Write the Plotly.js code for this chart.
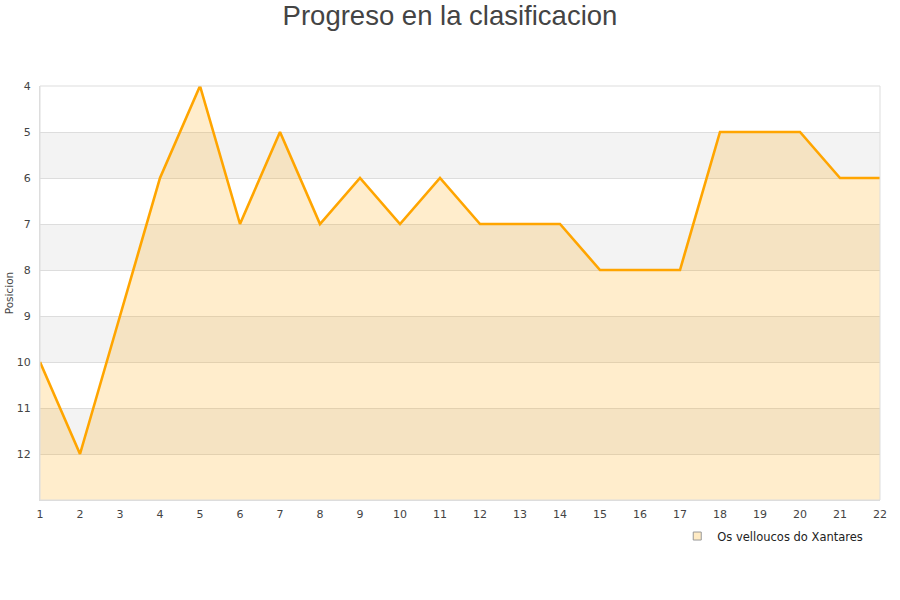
<!DOCTYPE html>
<html>
<head>
<meta charset="utf-8">
<script src="https://cdn.plot.ly/plotly-3.0.1.min.js"></script>
<style>html,body{margin:0;padding:0;background:#fff;}#chart{width:900px;height:600px;}</style>
</head>
<body>
<div id="chart"></div>
<script>
const jornadas = [1,2,3,4,5,6,7,8,9,10,11,12,13,14,15,16,17,18,19,20,21,22];
const posicion = [10,12,9,6,4,7,5,7,6,7,6,7,7,7,8,8,8,5,5,5,6,6];
const teamName = "Os velloucos do Xantares";
const yTicks = [4,5,6,7,8,9,10,11,12];
const bandStarts = [5,7,9,11];
const yBottom = 13;

const baseline = {
  x: jornadas,
  y: jornadas.map(() => yBottom),
  mode: 'lines',
  line: {width: 0, color: 'rgba(0,0,0,0)'},
  hoverinfo: 'skip',
  showlegend: false
};
const main = {
  x: jornadas,
  y: posicion,
  name: teamName,
  mode: 'lines',
  line: {color: '#FFA500', width: 2.6},
  fill: 'tonexty',
  fillcolor: 'rgba(255,165,0,0.2)',
  showlegend: false
};
const legendEntry = {
  x: [null], y: [null],
  name: teamName,
  mode: 'markers',
  marker: {symbol: 'square', size: 8, color: '#FFEBC4', line: {color: '#999999', width: 1}},
  showlegend: true
};

const shapes = bandStarts.map(b => ({
  type: 'rect', xref: 'paper', yref: 'y', x0: 0, x1: 1, y0: b, y1: b + 1,
  fillcolor: '#f3f3f3', line: {width: 0}, layer: 'below'
}));
shapes.push({
  type: 'rect', xref: 'paper', yref: 'paper', x0: 0, x1: 1, y0: 0, y1: 1,
  line: {color: '#dddddd', width: 1}, fillcolor: 'rgba(0,0,0,0)', layer: 'above'
});

const layout = {
  width: 900, height: 600,
  margin: {l: 40, r: 20, t: 86, b: 100},
  paper_bgcolor: '#fff', plot_bgcolor: '#fff',
  font: {family: 'DejaVu Sans, sans-serif', size: 11, color: '#444'},
  title: {text: 'Progreso en la clasificacion', x: 0.5, xanchor: 'center', y: 0.975, yanchor: 'middle',
          font: {family: 'Liberation Sans, Arial, sans-serif', size: 27.5, color: '#444'}},
  xaxis: {
    range: [1, 22], tickvals: jornadas, ticktext: jornadas.map(String),
    showgrid: false, zeroline: false, showline: true, linecolor: '#dddddd',
    ticks: 'outside', ticklen: 4, tickcolor: 'rgba(0,0,0,0)',
    tickfont: {size: 11, color: '#444'}
  },
  yaxis: {
    range: [13, 4], tickvals: yTicks, ticktext: yTicks.map(String),
    showgrid: true, gridcolor: '#dddddd', zeroline: false, showline: true, linecolor: '#dddddd',
    ticks: 'outside', ticklen: 6, tickcolor: 'rgba(0,0,0,0)',
    tickfont: {size: 11, color: '#444'},
    title: {text: 'Posicion', standoff: 1, font: {size: 10.5, color: '#444'}}
  },
  shapes: shapes,
  showlegend: true,
  legend: {orientation: 'h', x: 0.986, xanchor: 'right', y: -0.052, yanchor: 'top',
           font: {size: 11.5, color: '#222'}, bgcolor: 'rgba(0,0,0,0)', itemwidth: 30}
};

Plotly.newPlot('chart', [baseline, main, legendEntry], layout, {displayModeBar: false, staticPlot: true});
</script>
</body>
</html>
